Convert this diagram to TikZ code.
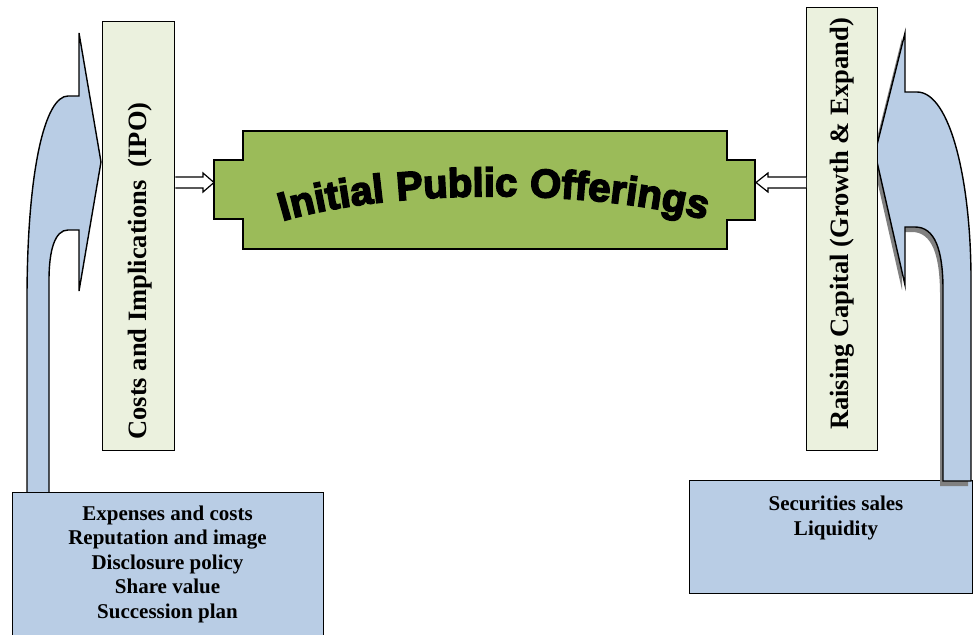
\documentclass[tikz,border=0pt]{standalone}
\usepackage{fontspec}
\setmainfont{Liberation Serif}
\newfontfamily\heavyfont[FakeBold=4,LetterSpace=3]{Liberation Sans Bold}
\usetikzlibrary{calc,decorations.text}
\definecolor{arrowblue}{RGB}{185,205,229}
\definecolor{labelgreen}{RGB}{235,241,222}
\definecolor{ipogreen}{RGB}{155,187,89}
\definecolor{shadowgray}{RGB}{128,128,128}

\begin{document}
\begin{tikzpicture}[x=1pt,y=-1pt,line join=miter,
  outline/.style={draw=black,line width=1.4pt},
  sidebox/.style={outline,fill=labelgreen,anchor=north west,inner sep=0pt},
  listbox/.style={outline,fill=arrowblue,anchor=north west,inner sep=0pt},
  bentarrow/.style={outline,fill=arrowblue},
  sidetext/.style={font=\bfseries\fontsize{26.5}{30}\selectfont,rotate=90,inner sep=0pt},
  listtext/.style={font=\bfseries\fontsize{21}{24.5}\selectfont,align=center,inner sep=0pt},
  blockarrow/.style={draw=black,fill=white,line width=1.2pt},
  rightbend/.style={insert path={(971,481) -- (971,280)
      .. controls (971,180) and (950,92) .. (917,92) -- (905,92) -- (905,33)
      -- (875,153) -- (905,285) -- (905,227) -- (915,227)
      .. controls (935,227) and (943,250) .. (943,290) -- (943,481) -- cycle}}
]
\useasboundingbox (0,0) rectangle (973,634);

% left bent arrow, drawn before the list box that hides its foot
\draw[bentarrow] (27,500) -- (27,300) .. controls (27,170) and (45,96) .. (68,96)
  -- (79,96) -- (79,33) -- (101,162) -- (79,291) -- (79,230) -- (68,230)
  .. controls (55,230) and (49,250) .. (49,280) -- (49,500) -- cycle;

% list boxes
\node[listbox,minimum width=311pt,minimum height=150pt] (costlist) at (12,492) {};
\node[listtext] (costlisttext) at (167.5,564)
  {Expenses and costs\\Reputation and image\\Disclosure policy\\Share value\\Succession plan};
\node[listbox,minimum width=283pt,minimum height=113pt] (gainlist) at (689,480) {};
\node[listtext] (gainlisttext) at (836,518) {Securities sales\\Liquidity};

% right bent arrow with its drop shadow
\fill[shadowgray,shift={(-3,5)},rightbend];
\draw[bentarrow,rightbend];

% vertical label boxes
\node[sidebox,minimum width=72pt,minimum height=429pt] (costs) at (102,21) {};
\node[sidetext] (coststext) at (140,271) {Costs and Implications\ \ (IPO)};
\node[sidebox,minimum width=71pt,minimum height=443pt] (capital) at (806,7) {};
\node[sidetext] (capitaltext) at (842,224) {Raising Capital (Growth \& Expand)};

% central block
\draw[outline,fill=ipogreen] (243,131) -- (727,131) -- (727,160) -- (755,160)
  -- (755,220) -- (727,220) -- (727,249) -- (243,249) -- (243,219) -- (214,219)
  -- (214,160) -- (243,160) -- cycle;
\coordinate (ipoW) at (214,182.5);
\coordinate (ipoE) at (756,182.5);
\path[decorate,decoration={text along path,text align=center,
  text={|\heavyfont\fontsize{40}{40}\selectfont|Initial Public Offerings}}]
  (262,228) .. controls (372,186) and (608,186) .. (726,226);

% hollow block arrows into the central block
\draw[blockarrow] ($(costs.east |- ipoW)+(0,-5.5)$) -- ($(ipoW)+(-11,-5.5)$)
  -- ($(ipoW)+(-11,-9.5)$) -- (ipoW) -- ($(ipoW)+(-11,9.5)$)
  -- ($(ipoW)+(-11,5.5)$) -- ($(costs.east |- ipoW)+(0,5.5)$);
\draw[blockarrow] ($(capital.west |- ipoE)+(0,-5.5)$) -- ($(ipoE)+(12,-5.5)$)
  -- ($(ipoE)+(12,-9.5)$) -- (ipoE) -- ($(ipoE)+(12,9.5)$)
  -- ($(ipoE)+(12,5.5)$) -- ($(capital.west |- ipoE)+(0,5.5)$);
\end{tikzpicture}
\end{document}
